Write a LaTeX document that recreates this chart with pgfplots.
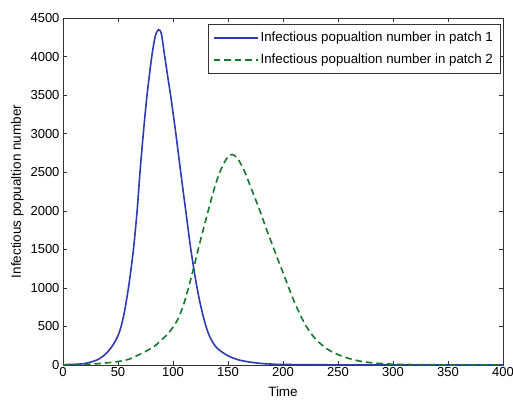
\documentclass[border=0pt]{standalone}
\usepackage{pgfplots}
\pgfplotsset{compat=1.18}
\usepackage{fontspec}
\setmainfont{Liberation Sans}
\definecolor{mblue}{RGB}{45,60,180}
\definecolor{mgreen}{RGB}{20,120,45}
\begin{document}
\begin{tikzpicture}[x=1pt,y=1pt]
\useasboundingbox (-63,-40) rectangle (450,365);
\begin{axis}[
  scale only axis, width=440pt, height=347pt,
  xmin=0, xmax=400, ymin=0, ymax=4500,
  xtick={0,50,...,400}, ytick={0,500,...,4500},
  tick align=inside, tick pos=both,
  major tick length=4pt,
  axis line style={black!80},
  every tick/.style={black!80},
  /pgf/number format/assume math mode=true,
  /pgf/number format/1000 sep={},
  ticklabel style={font=\fontsize{13}{14}\selectfont},
  xticklabel style={yshift=1pt},
  xlabel={Time}, ylabel={Infectious popualtion number},
  label style={font=\fontsize{13.5}{15}\selectfont},
  xlabel style={yshift=-3pt},
  ylabel style={yshift=0pt},
  legend style={at={(1,1)}, anchor=north east, xshift=-3pt, yshift=-6pt,
    font=\fontsize{13.3}{14}\selectfont, draw=black!80, inner xsep=5pt, inner ysep=6pt,
    row sep=7pt},
  legend cell align=left,
  legend image code/.code={\draw[#1,line width=1.8pt] (0pt,0pt) -- (44pt,0pt);},
]
\addplot[mblue, line width=1.6pt, smooth] coordinates {
(0,5) (10,8) (20,20) (30,60) (35,100) (40,160) (45,250) (50,380) (53,510) (56,700)
(59.5,1000) (62,1260) (64.5,1560) (67.5,2020) (70,2500) (73,3000) (76.4,3500)
(80.7,4000) (84,4270) (87,4350) (89.5,4290) (92,4050) (95,3760) (98,3480) (102.6,3000)
(107,2500) (111.6,2000) (116,1520) (121,1070) (125,780) (129.6,520) (134,350)
(140,220) (150,120) (160,65) (170,38) (180,20) (190,12) (200,7) (250,2) (300,1) (400,0)
};
\addlegendentry{Infectious popualtion number in patch 1}
\addplot[mgreen, line width=1.6pt, dash pattern=on 6.5pt off 4pt, smooth] coordinates {
(0,2) (20,8) (30,15) (40,28) (50,45) (60,75) (70,140) (80,215) (85,265) (90,330)
(95,400) (100,490) (105,610) (110,800) (115,1050) (120,1330) (125,1620) (130,1890)
(135,2160) (140,2400) (145,2580) (150,2700) (154,2730) (158,2690) (162,2600)
(166,2480) (170,2330) (175,2150) (180,1960) (185,1760) (190,1570) (195,1380)
(200,1200) (205,1010) (210,830) (215,670) (220,530) (225,420) (230,330) (235,265)
(240,210) (245,168) (250,135) (260,85) (270,50) (280,30) (290,18) (300,11) (320,5)
(350,2) (400,0)
};
\addlegendentry{Infectious popualtion number in patch 2}
\end{axis}
\end{tikzpicture}
\end{document}
